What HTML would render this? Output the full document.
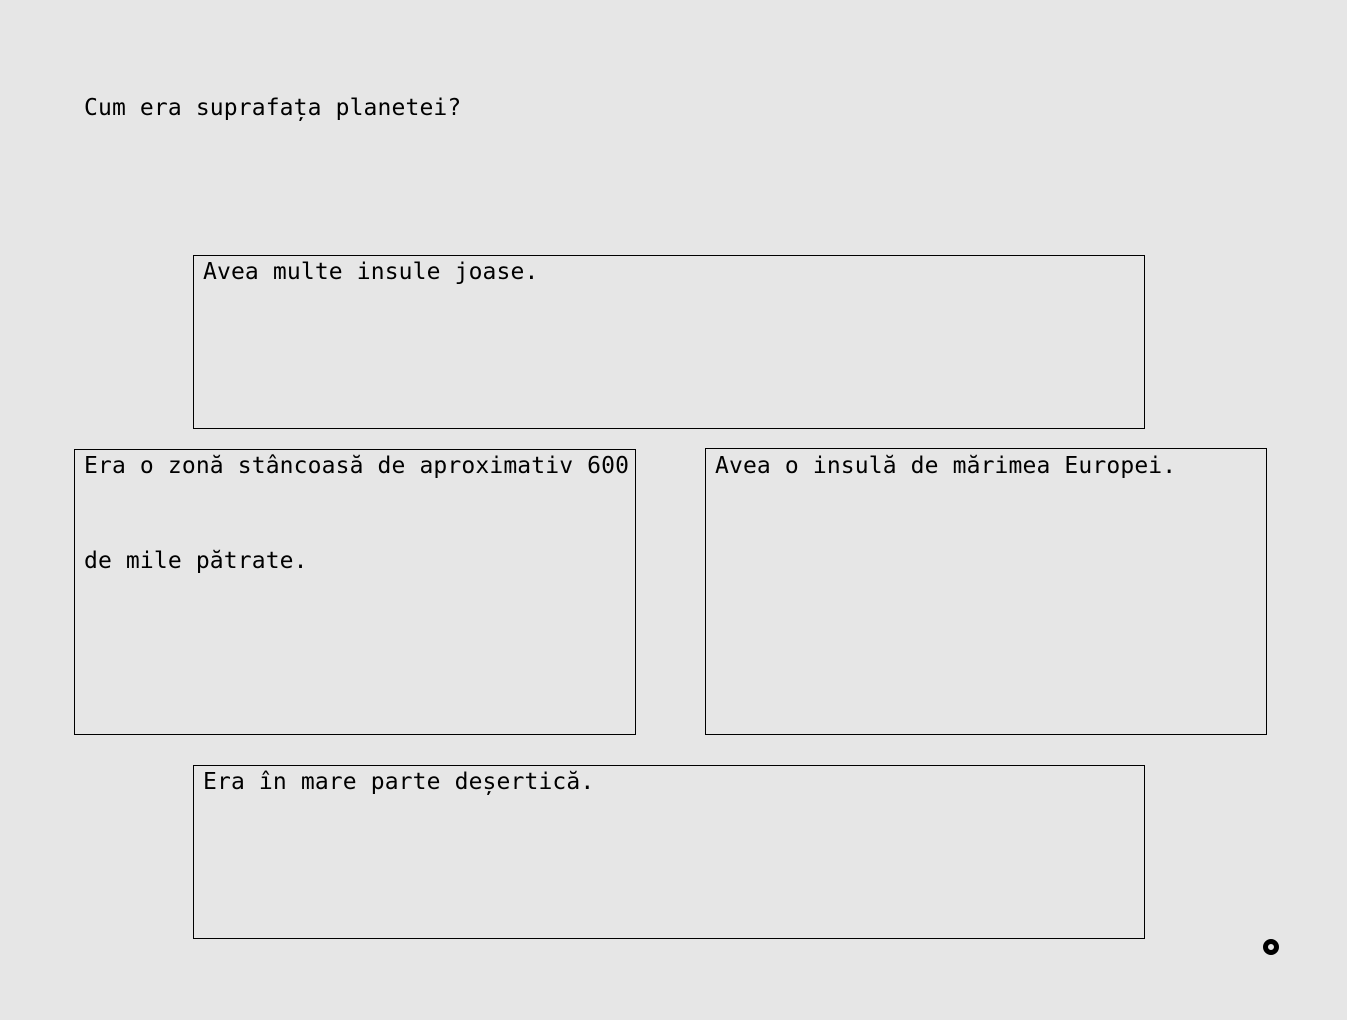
<!DOCTYPE html>
<html><head><style>
body{margin:0;width:1347px;height:1020px;background:#e6e6e6;position:relative;overflow:hidden;font-family:"DejaVu Sans Mono","Liberation Mono",monospace;font-size:23px;color:#000;letter-spacing:0.13px}
.t{position:absolute;white-space:pre;line-height:30px}
.b{position:absolute;border:1px solid #000;box-sizing:border-box}
</style></head><body>
<div class="t" style="left:84px;top:93px">Cum era suprafața planetei?</div>
<div class="b" style="left:193px;top:255px;width:952px;height:174px"></div>
<div class="t" style="left:203px;top:257px">Avea multe insule joase.</div>
<div class="b" style="left:74px;top:449px;width:562px;height:286px"></div>
<div class="t" style="left:84px;top:451px">Era o zonă stâncoasă de aproximativ 600</div>
<div class="t" style="left:84px;top:546px">de mile pătrate.</div>
<div class="b" style="left:705px;top:448px;width:562px;height:287px"></div>
<div class="t" style="left:715px;top:451px">Avea o insulă de mărimea Europei.</div>
<div class="b" style="left:193px;top:765px;width:952px;height:174px"></div>
<div class="t" style="left:203px;top:767px">Era în mare parte deșertică.</div>
<div style="position:absolute;left:1263px;top:939px;width:6px;height:6px;border:5px solid #000;border-radius:50%"></div>
</body></html>
